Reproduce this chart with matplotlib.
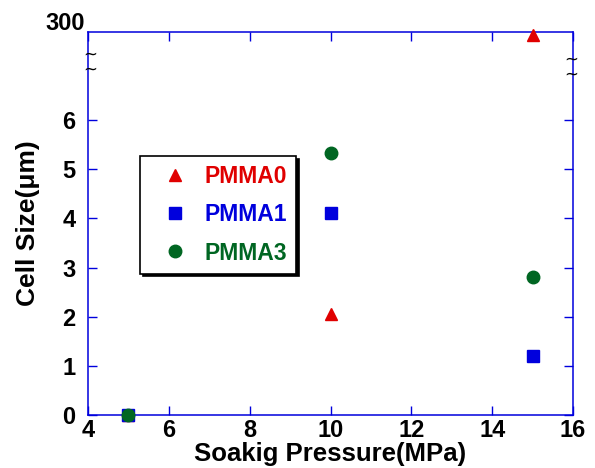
import numpy as np
import matplotlib
matplotlib.use("Agg")
import matplotlib.pyplot as plt

# Data
pressure = [5, 10, 15]
pmma0 = [0, 2.06, 300]
pmma1 = [0, 4.11, 1.19]
pmma3 = [0, 5.32, 2.81]
series_names = ["PMMA0", "PMMA1", "PMMA3"]
y_ticks = [0, 1, 2, 3, 4, 5, 6]
x_ticks = [4, 6, 8, 10, 12, 14, 16]

RED = "#e00000"
BLUE = "#0000dd"
GREEN = "#006622"

K = 0.73 / 293.0
def fwd(y):
    y = np.asarray(y, dtype=float)
    return np.where(y <= 7, y, 7 + (y - 7) * K)
def inv(y):
    y = np.asarray(y, dtype=float)
    return np.where(y <= 7, y, 7 + (y - 7) / K)

plt.rcParams['font.family'] = ['Liberation Sans', 'DejaVu Sans']
plt.rcParams['font.weight'] = 'bold'

fig = plt.figure(figsize=(5.95, 4.68), dpi=100)
ax = fig.add_axes([88/595, 53/468, 485/595, 383/468])
ax.set_yscale('function', functions=(fwd, inv))

ax.plot(pressure, pmma0, linestyle='none', marker='^', ms=9, color=RED, mec=RED, label=series_names[0], clip_on=False, zorder=3)
ax.plot(pressure, pmma1, linestyle='none', marker='s', ms=8.5, color=BLUE, mec=BLUE, label=series_names[1], clip_on=False, zorder=4)
ax.plot(pressure, pmma3, linestyle='none', marker='o', ms=9, color=GREEN, mec=GREEN, label=series_names[2], clip_on=False, zorder=5)

ax.set_xlim(4, 16)
ax.set_ylim(0, float(inv(7.79)))
ax.set_xticks(x_ticks)
ax.set_yticks(y_ticks)
ax.minorticks_off()
ax.tick_params(direction='in', length=6.5, width=1, color=BLUE, labelsize=17,
               top=True, right=True)
ax.tick_params(axis='y', pad=9)
ax.tick_params(axis='x', pad=3)
for lab in ax.get_xticklabels() + ax.get_yticklabels():
    lab.set_fontweight('bold')
for sp in ax.spines.values():
    sp.set_color(BLUE)
    sp.set_linewidth(1.1)

ax.annotate("300", xy=(0, 1), xycoords='axes fraction', xytext=(-2, 6),
            textcoords='offset points', ha='right', va='center', fontsize=17, fontweight='bold')

for (xf, yf) in [(0.004, 0.922), (0.996, 0.908)]:
    ax.text(xf, yf, "~\n~", transform=ax.transAxes, ha='center', va='center',
            fontsize=12, family='DejaVu Sans', fontweight='normal', clip_on=False,
            linespacing=0.75)

ax.set_xlabel("Soakig Pressure(MPa)", fontsize=18.5, fontweight='bold', labelpad=0)
ax.set_ylabel("Cell Size(\u03bcm)", fontsize=19, fontweight='bold', labelpad=16)

leg = ax.legend(loc='upper left', bbox_to_anchor=(0.107, 0.676), frameon=True,
                fancybox=False, shadow={'color': 'black', 'alpha': 1.0}, edgecolor='black',
                prop={'size': 16.5, 'weight': 'bold'}, labelspacing=0.66,
                handletextpad=0.1, borderpad=0.4, handlelength=2.3, borderaxespad=0)
leg.get_frame().set_linewidth(1.2)
for t, c in zip(leg.get_texts(), [RED, BLUE, GREEN]):
    t.set_color(c)

fig.savefig("out.png", dpi=100)
